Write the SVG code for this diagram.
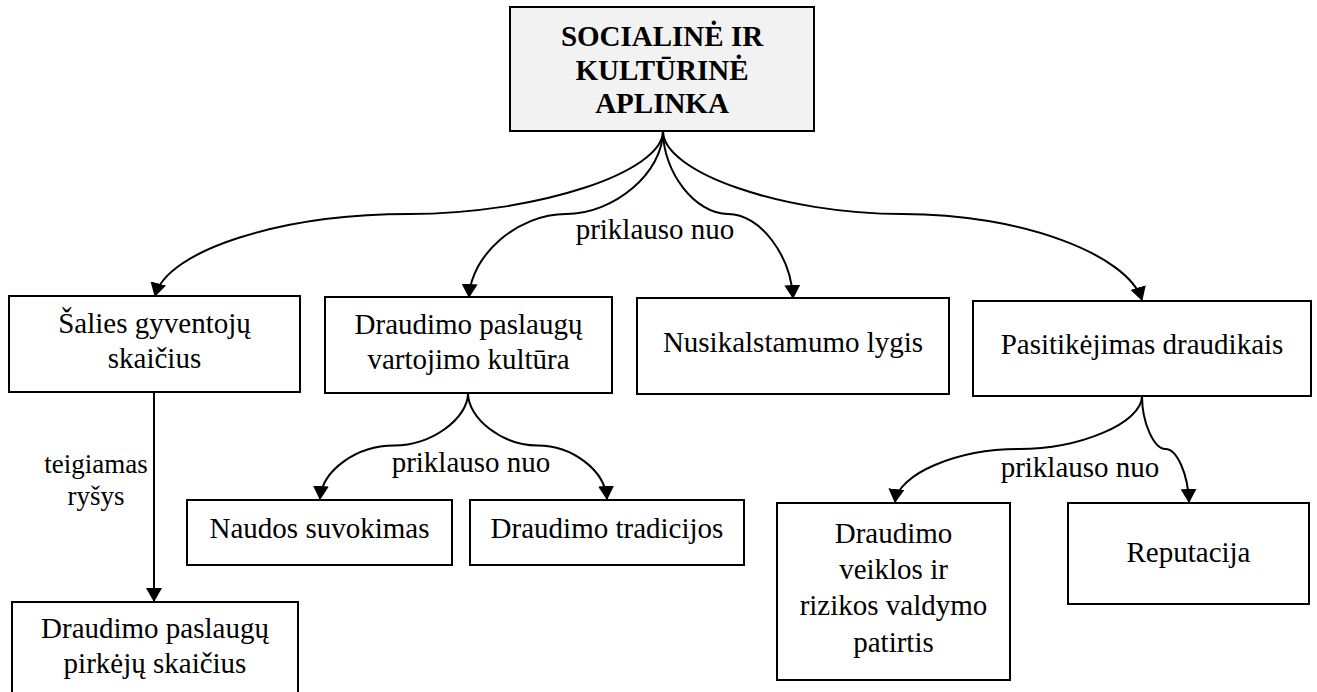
<svg xmlns="http://www.w3.org/2000/svg" width="1317" height="692" viewBox="0 0 1317 692">
  <style>
    .box { fill: #ffffff; stroke: #000000; stroke-width: 2; }
    .root { fill: #f2f2f2; stroke: #000000; stroke-width: 2; }
    .t { font-family: "Liberation Serif", "Times New Roman", serif; font-size: 29px; fill: #000000; text-anchor: middle; }
    .tb { font-family: "Liberation Serif", "Times New Roman", serif; font-size: 29px; font-weight: bold; fill: #000000; text-anchor: middle; }
    .lbl { font-family: "Liberation Serif", "Times New Roman", serif; font-size: 27px; fill: #000000; text-anchor: middle; }
    .link { fill: none; stroke: #000000; stroke-width: 2; marker-end: url(#arrow); }
  </style>
  <defs>
    <marker id="arrow" markerUnits="userSpaceOnUse" viewBox="0 0 14 16" markerWidth="14" markerHeight="16" refX="13" refY="8" orient="auto">
      <path d="M0,0 L14,8 L0,16 Z" fill="#000000"/>
    </marker>
  </defs>

  <rect width="1317" height="692" fill="#ffffff"/>

  <!-- connectors and their labels -->
  <g id="connectors">
    <path class="link" d="M663,131 C663,172.5 536,214 409,214 C282,214 167,250 155,296"/>
    <path class="link" d="M663,131 C663,172.5 614.5,214 566,214 C517.5,214 471,255 469,297"/>
    <path class="link" d="M663,131 C663,172.5 695.5,214 728,214 C760.5,214 791,256 793,298"/>
    <path class="link" d="M663,131 C663,172.5 782.75,214 902.5,214 C1022.25,214 1128,255 1142,300"/>
    <path class="link" d="M154,392 L154,601"/>
    <path class="link" d="M468,393 C468,419 431,445.5 394,445.5 C357,445.5 322,470 320,499"/>
    <path class="link" d="M468,393 C468,419 503,445.5 537.5,445.5 C572,445.5 605,470 607,499"/>
    <path class="link" d="M1142,396 C1142,423 1080,449 1018.5,449 C957,449 898,474 895,502"/>
    <path class="link" d="M1142,396 C1142,423 1154,449 1165.5,449 C1177,449 1188,474 1189,502"/>
    <text class="t" x="655" y="239">priklauso nuo</text>
    <text class="t" x="471" y="472">priklauso nuo</text>
    <text class="t" x="1080" y="477">priklauso nuo</text>
    <text class="lbl" x="96" y="473">teigiamas</text>
    <text class="lbl" x="96" y="505">ryšys</text>
  </g>

  <g id="node-root">
    <rect class="root" x="510" y="7" width="304" height="124"/>
    <text class="tb" x="662" y="46">SOCIALINĖ IR</text>
    <text class="tb" x="662" y="80">KULTŪRINĖ</text>
    <text class="tb" x="662" y="113">APLINKA</text>
  </g>

  <g id="node-gyventojai">
    <rect class="box" x="9" y="296" width="291" height="96"/>
    <text class="t" x="154.5" y="333">Šalies gyventojų</text>
    <text class="t" x="154.5" y="368">skaičius</text>
  </g>

  <g id="node-kultura">
    <rect class="box" x="325" y="297" width="287" height="96"/>
    <text class="t" x="468.5" y="334">Draudimo paslaugų</text>
    <text class="t" x="468.5" y="369">vartojimo kultūra</text>
  </g>

  <g id="node-nusikalstamumas">
    <rect class="box" x="637" y="298" width="312" height="96"/>
    <text class="t" x="793" y="352">Nusikalstamumo lygis</text>
  </g>

  <g id="node-pasitikejimas">
    <rect class="box" x="973" y="301" width="338" height="95"/>
    <text class="t" x="1142" y="354">Pasitikėjimas draudikais</text>
  </g>

  <g id="node-naudos">
    <rect class="box" x="187" y="500" width="265" height="65"/>
    <text class="t" x="319.5" y="538">Naudos suvokimas</text>
  </g>

  <g id="node-tradicijos">
    <rect class="box" x="470" y="500" width="274" height="65"/>
    <text class="t" x="607" y="538">Draudimo tradicijos</text>
  </g>

  <g id="node-patirtis">
    <rect class="box" x="777" y="503" width="233" height="177"/>
    <text class="t" x="893.5" y="543">Draudimo</text>
    <text class="t" x="893.5" y="579">veiklos ir</text>
    <text class="t" x="893.5" y="615">rizikos valdymo</text>
    <text class="t" x="893.5" y="652">patirtis</text>
  </g>

  <g id="node-reputacija">
    <rect class="box" x="1068" y="503" width="241" height="101"/>
    <text class="t" x="1188.5" y="562">Reputacija</text>
  </g>

  <g id="node-pirkejai">
    <rect class="box" x="12" y="602" width="286" height="100"/>
    <text class="t" x="155" y="638">Draudimo paslaugų</text>
    <text class="t" x="155" y="673">pirkėjų skaičius</text>
  </g>
</svg>
